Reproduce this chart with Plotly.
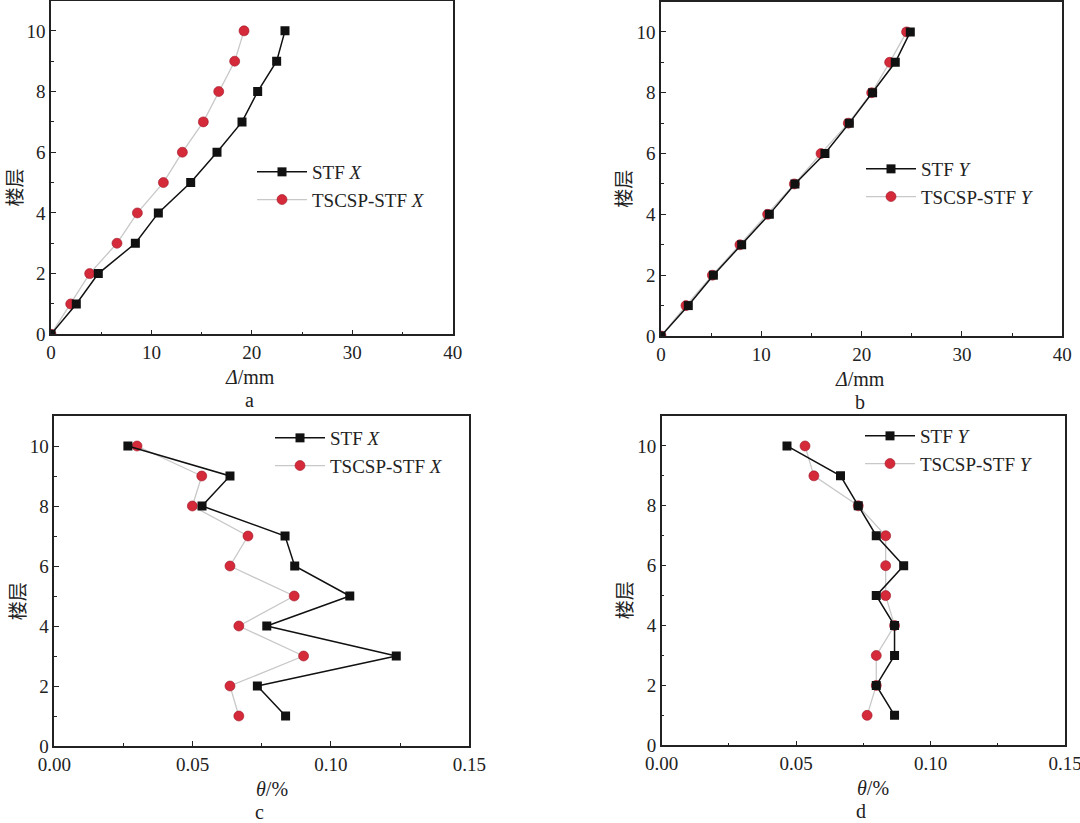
import plotly.graph_objects as go

W, H = 1080, 823

floors_a = [0, 1, 2, 3, 4, 5, 6, 7, 8, 9, 10]
stf_x_disp = [0, 2.52, 4.71, 8.40, 10.69, 13.91, 16.53, 19.02, 20.58, 22.47, 23.30]
tscsp_x_disp = [0, 1.96, 3.85, 6.57, 8.60, 11.19, 13.08, 15.17, 16.70, 18.29, 19.22]
stf_y_disp = [0, 2.72, 5.22, 8.04, 10.80, 13.35, 16.34, 18.77, 21.09, 23.35, 24.85]
tscsp_y_disp = [0, 2.49, 5.12, 7.87, 10.63, 13.29, 15.95, 18.67, 21.00, 22.79, 24.48]

floors_c = [1, 2, 3, 4, 5, 6, 7, 8, 9, 10]
stf_x_drift = [0.0836, 0.0734, 0.1236, 0.0768, 0.1068, 0.0869, 0.0834, 0.0534, 0.0635, 0.0266]
tscsp_x_drift = [0.0667, 0.0635, 0.0901, 0.0667, 0.0867, 0.0635, 0.0700, 0.0499, 0.0533, 0.0299]
stf_y_drift = [0.0866, 0.0798, 0.0866, 0.0866, 0.0798, 0.0900, 0.0798, 0.0731, 0.0665, 0.0466]
tscsp_y_drift = [0.0764, 0.0798, 0.0798, 0.0866, 0.0833, 0.0833, 0.0833, 0.0731, 0.0566, 0.0533]

SERIF = "Liberation Serif"
CJK = "Noto Sans CJK SC"
RED = "#d42a3a"
GRAY = "#c8c8c8"

def px_x(v):
    return v / W

def px_y(v):
    return 1 - v / H

fig = go.Figure()

panels = [
    ("a", "x", "y", "legend", stf_x_disp, tscsp_x_disp, floors_a, (51, 452.7), (0.5, 334.3), [0, 40], 10, 5, None, "X"),
    ("b", "x2", "y2", "legend2", stf_y_disp, tscsp_y_disp, floors_a, (661, 1062.3), (1.5, 336), [0, 40], 10, 5, None, "Y"),
    ("c", "x3", "y3", "legend3", stf_x_drift, tscsp_x_drift, floors_c, (54.3, 469.3), (416, 746), [0, 0.15], 0.05, 0.025, ".2f", "X"),
    ("d", "x4", "y4", "legend4", stf_y_drift, tscsp_y_drift, floors_c, (661.7, 1065), (416, 745.3), [0, 0.15], 0.05, 0.025, ".2f", "Y"),
]

layout = dict(
    width=W, height=H,
    template="none",
    margin=dict(l=0, r=0, t=0, b=0, pad=0),
    paper_bgcolor="white", plot_bgcolor="white",
    showlegend=True,
)

axis_common = dict(
    showgrid=False, zeroline=False, showline=True, linecolor="#222", linewidth=1.5,
    mirror=True, ticks="inside", ticklen=5, tickwidth=1.2, tickcolor="#222",
    automargin=False, ticklabeloverflow="allow",
    tickfont=dict(family=SERIF, size=19, color="#222"),
)

legend_pos = {
    "legend": (252, 186),
    "legend2": (861, 183),
    "legend3": (270, 452),
    "legend4": (860, 450),
}

annotations = []
for (lab, xa, ya, lg, s1, s2, fl, xd, yd, xr, dt, mn, fmt, dirn) in panels:
    fig.add_trace(go.Scatter(
        x=s2, y=fl, xaxis=xa, yaxis=ya, legend=lg, mode="lines+markers",
        name="TSCSP-STF <i>%s</i>" % dirn,
        line=dict(color=GRAY, width=1.3),
        marker=dict(symbol="circle", size=10, color=RED, line=dict(width=0.6, color="#a01828")),
    ))
    fig.add_trace(go.Scatter(
        x=s1, y=fl, xaxis=xa, yaxis=ya, legend=lg, mode="lines+markers",
        name="STF <i>%s</i>" % dirn,
        line=dict(color="#111", width=1.5),
        marker=dict(symbol="square", size=9, color="#111"),
    ))
    xkey = "xaxis" if xa == "x" else "xaxis" + xa[1:]
    ykey = "yaxis" if ya == "y" else "yaxis" + ya[1:]
    xax = dict(axis_common)
    xax.update(domain=[px_x(xd[0]), px_x(xd[1])], range=xr, dtick=dt, tick0=0,
               anchor=ya, minor=dict(dtick=mn, tick0=0, ticks="inside", ticklen=3, tickcolor="#222"))
    if fmt:
        xax["tickformat"] = fmt
    yax = dict(axis_common)
    yax.update(domain=[px_y(yd[1]), px_y(yd[0])], range=[0, 11], dtick=2, tick0=0,
               anchor=xa, minor=dict(dtick=1, tick0=0, ticks="inside", ticklen=3, tickcolor="#222"))
    layout[xkey] = xax
    layout[ykey] = yax
    lx, ly = legend_pos[lg]
    layout[lg] = dict(
        x=px_x(lx), y=px_y(ly), xanchor="left", yanchor="middle", xref="paper", yref="paper",
        bgcolor="rgba(0,0,0,0)", borderwidth=0, itemwidth=50, tracegroupgap=0,
        font=dict(family=SERIF, size=19, color="#222"), traceorder="reversed",
    )
    cx = (xd[0] + xd[1]) / 2
    yb = yd[1]
    if lab in ("a", "b"):
        title = "<i>Δ</i>/mm"
    else:
        title = "<i>θ</i>/%"
    annotations.append(dict(text=title, x=px_x(cx + (10 if lab in ("c", "d") else -2)), y=px_y(yb + 43),
                            xref="paper", yref="paper", showarrow=False,
                            font=dict(family=SERIF, size=20, color="#222"), xanchor="center", yanchor="middle"))
    annotations.append(dict(text=lab, x=px_x(cx - 2), y=px_y(yb + 66),
                            xref="paper", yref="paper", showarrow=False,
                            font=dict(family=SERIF, size=20, color="#222"), xanchor="center", yanchor="middle"))
    annotations.append(dict(text="楼层", x=px_x(xd[0] - 38), y=px_y((yd[0] + yd[1]) / 2 + 20),
                            xref="paper", yref="paper", showarrow=False, textangle=-90,
                            font=dict(family=CJK, size=19, color="#222"), xanchor="center", yanchor="middle"))

layout["annotations"] = annotations
fig.update_layout(**layout)
fig.write_html("out.html")
